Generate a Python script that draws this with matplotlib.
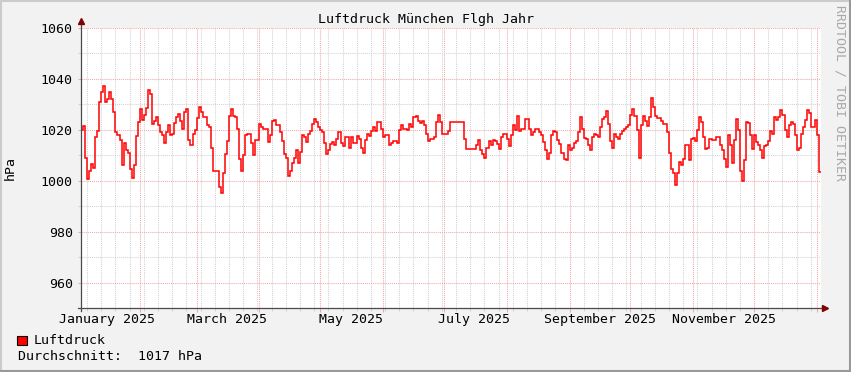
import matplotlib

matplotlib.use("Agg")

import matplotlib.dates as mdates
import matplotlib.pyplot as plt
import numpy as np
import pandas as pd
from matplotlib.lines import Line2D
from matplotlib.patches import Rectangle
from matplotlib.ticker import MultipleLocator, NullFormatter


TITLE = "Luftdruck München Flgh Jahr"
Y_LABEL = "hPa"
SERIES_NAME = "Luftdruck"
AVERAGE_TEXT = "Durchschnitt:  1017 hPa"
WATERMARK = "RRDTOOL / TOBI OETIKER"

START = "2025-01-03"
END = "2026-01-03"
Y_MIN, Y_MAX = 950, 1060
MONTH_LABELS = ["January 2025", "March 2025", "May 2025",
                "July 2025", "September 2025", "November 2025"]
MONTH_LABEL_DATES = ["2025-01-01", "2025-03-01", "2025-05-01",
                     "2025-07-01", "2025-09-01", "2025-11-01"]

# daily pressure values (hPa), starting at START
pressure_jan_mar = [
    1020, 1021.5, 1009, 1000.5, 1004, 1006.5, 1005, 1017, 1019.5, 1031,
    1035, 1037.3, 1031, 1032, 1034.7, 1032, 1027, 1019, 1017.8, 1016,
    1006, 1015, 1012, 1011, 1004.5, 1001, 1006, 1017.5, 1023, 1028,
    1024, 1026, 1028.5, 1035.5, 1034, 1022.3, 1023.5, 1025, 1022, 1019,
    1018, 1015, 1019, 1022, 1018, 1018.5, 1022.5, 1025, 1026.2, 1023.6,
    1020.4, 1027, 1028, 1016, 1014, 1018.3, 1020, 1024.5, 1029, 1027,
    1025, 1025,
]
pressure_mar_may = [
    1022, 1021, 1013, 1004, 1004, 1004, 997.5, 995.3, 1003, 1010.6,
    1015.8, 1025.6, 1028.2, 1025.6, 1025, 1020.4, 1008.7, 1004, 1010, 1017.8,
    1018.3, 1018.5, 1015, 1010, 1016, 1016, 1022.3, 1021, 1020.5, 1020.5,
    1015.2, 1018, 1023.6, 1024, 1022, 1022, 1019, 1015.8, 1010.6, 1009,
    1002, 1004, 1007, 1009, 1012, 1006.8, 1011.3, 1017.8, 1017.2, 1015.2,
    1018.3, 1019.7, 1022.3, 1024.3, 1023, 1021, 1020, 1019, 1015, 1010.6,
    1012,
]
pressure_may_jul = [
    1014.5, 1015.2, 1014, 1016.5, 1019, 1015, 1013.5, 1017, 1017, 1013,
    1017, 1015, 1015, 1017.5, 1016.5, 1013, 1011, 1016, 1018.3, 1017.5,
    1019.7, 1021, 1019.7, 1023, 1023, 1020.4, 1017.2, 1017.8, 1017.8, 1014,
    1015, 1015.5, 1015.8, 1015, 1020, 1022, 1020.4, 1020.5, 1020, 1022.3,
    1021, 1025, 1025.4, 1023.5, 1022.5, 1023.5, 1022, 1018.5, 1015.5, 1016.5,
    1016.5, 1017, 1023, 1026, 1023, 1018.5, 1018.5, 1018.3, 1019.5, 1023,
    1023,
]
pressure_jul_sep = [
    1023, 1023, 1023, 1023, 1023, 1016.5, 1012.6, 1012.6, 1012.6, 1012.6,
    1012.6, 1014, 1016, 1012, 1010.5, 1009, 1013, 1015.5, 1014, 1016,
    1015.5, 1014.5, 1012.5, 1017, 1018.3, 1018.3, 1016.5, 1013.5, 1018, 1022,
    1020, 1025.5, 1019.7, 1020.3, 1020.3, 1024.3, 1024.3, 1020.5, 1018, 1019,
    1020.3, 1020.3, 1019, 1017.8, 1015.2, 1012, 1008.7, 1011, 1018, 1019.7,
    1019, 1016, 1014.5, 1011, 1008.5, 1008, 1014, 1012, 1013, 1015,
    1015.5,
]
pressure_sep_nov = [
    1019, 1025, 1020.5, 1016.8, 1016.5, 1014, 1012, 1017, 1018.3, 1017.8,
    1017, 1021, 1024.3, 1025, 1027.3, 1022.3, 1015.8, 1013, 1018.3, 1017,
    1016.5, 1018.3, 1019.5, 1020.5, 1021, 1022, 1026, 1028, 1025.5, 1020,
    1009, 1022, 1025.6, 1023.5, 1021.5, 1025, 1032.5, 1029, 1025.6, 1024.5,
    1024.5, 1023.5, 1022.3, 1022.3, 1019, 1011, 1004.5, 1003, 998.5, 1003,
    1007.4, 1006.2, 1008.5, 1014, 1014, 1008, 1016.5, 1016.8, 1015.8, 1020,
    1025,
]
pressure_nov_jan = [
    1023, 1017, 1012.6, 1013, 1016.5, 1016, 1016, 1017.2, 1017.3, 1014,
    1012, 1008.5, 1005.5, 1018, 1014, 1007, 1016, 1024.3, 1020, 1004,
    1000, 1008, 1023, 1022.5, 1018, 1012.6, 1018, 1015.3, 1014, 1012,
    1009, 1013.5, 1014, 1015.8, 1019.7, 1018.3, 1025, 1024, 1025, 1027.8,
    1026, 1020, 1017, 1022, 1023, 1022.3, 1018, 1012, 1013, 1018.3,
    1021, 1024, 1027.8, 1026.5, 1021, 1021, 1024, 1018, 1003.5,
]

pressure = np.array(
    pressure_jan_mar + pressure_mar_may + pressure_may_jul
    + pressure_jul_sep + pressure_sep_nov + pressure_nov_jan
)

BACK = "#f2f2f2"
LINE_RED = "#ff0000"
MAJOR_GRID = "#f2a8a8"
MINOR_GRID = "#d2d2d2"
AXIS = "#4a4a4a"
ARROW = "#7f0000"
MONO = "DejaVu Sans Mono"
FS = 9.5

W, H = 851, 372

fig = plt.figure(figsize=(W / 100, H / 100), dpi=100, facecolor=BACK)
ax = fig.add_axes([81 / W, 64 / H, 740 / W, 280 / H])
ax.set_facecolor("white")

edges = pd.date_range(START, periods=len(pressure) + 1, freq="D")
ax.stairs(pressure, mdates.date2num(edges), baseline=None, color=LINE_RED,
          lw=1.1, zorder=3)

ax.set_xlim(mdates.date2num(pd.Timestamp(START)), mdates.date2num(pd.Timestamp(END)))
ax.set_ylim(Y_MIN, Y_MAX)

ax.xaxis.set_major_locator(mdates.MonthLocator())
ax.xaxis.set_minor_locator(mdates.WeekdayLocator(byweekday=mdates.MO))
ax.xaxis.set_major_formatter(NullFormatter())
ax.yaxis.set_major_locator(MultipleLocator(20))
ax.yaxis.set_minor_locator(MultipleLocator(10))

ax.set_axisbelow(True)
ax.grid(which="minor", color=MINOR_GRID, linestyle=(0, (1, 1)), lw=0.75)
ax.grid(which="major", color=MAJOR_GRID, linestyle=(0, (1, 1)), lw=0.75)

ax.tick_params(axis="x", which="major", length=3, width=0.75, color=MAJOR_GRID)
ax.tick_params(axis="x", which="minor", length=2, width=0.75, color=MINOR_GRID)
ax.tick_params(axis="y", which="major", length=2, width=0.75, color=MAJOR_GRID,
               labelsize=FS, pad=4)
ax.tick_params(axis="y", which="minor", length=2, width=0.75, color=MINOR_GRID)
for label in ax.get_yticklabels():
    label.set_family(MONO)

for spine in ax.spines.values():
    spine.set_visible(False)

# axis lines with arrow heads, rrdtool style
ax.plot([0, 0], [-0.01, 1.025], transform=ax.transAxes, color=AXIS, lw=0.9,
        clip_on=False, zorder=5)
ax.plot([-0.004, 1.006], [0, 0], transform=ax.transAxes, color=AXIS, lw=0.9,
        clip_on=False, zorder=5)
ax.plot([0], [1.025], transform=ax.transAxes, marker="^", ms=4, color=ARROW,
        clip_on=False, zorder=6)
ax.plot([1.006], [0], transform=ax.transAxes, marker=">", ms=4, color=ARROW,
        clip_on=False, zorder=6)

for text, day in zip(MONTH_LABELS, MONTH_LABEL_DATES):
    x = mdates.date2num(pd.Timestamp(day) + pd.Timedelta(days=15))
    ax.text(x, -0.04, text, transform=ax.get_xaxis_transform(), ha="center",
            va="center", fontsize=FS, family=MONO)

fig.text(0.5, 1 - 19 / H, TITLE, ha="center", va="center", fontsize=FS, family=MONO)
fig.text(10 / W, 1 - 168 / H, Y_LABEL, rotation=90, ha="center", va="center",
         fontsize=FS, family=MONO)
fig.text(840 / W, 1 - 93 / H, WATERMARK, rotation=270, ha="center", va="center",
         fontsize=FS, family=MONO, color="#a8a8a8")

# legend
fig.add_artist(Rectangle((17 / W, 1 - 345 / H), 10 / W, 9 / H, facecolor=LINE_RED,
                         edgecolor="black", lw=0.8, transform=fig.transFigure))
fig.text(34 / W, 1 - 340 / H, SERIES_NAME, ha="left", va="center", fontsize=FS,
         family=MONO)
fig.text(18 / W, 1 - 356 / H, AVERAGE_TEXT, ha="left", va="center", fontsize=FS,
         family=MONO)

# shaded frame
fig.add_artist(Line2D([0, 1], [1 - 1 / H, 1 - 1 / H], color="#cbcbcb", lw=1.5,
                      transform=fig.transFigure))
fig.add_artist(Line2D([1 / W, 1 / W], [0, 1], color="#cbcbcb", lw=1.5,
                      transform=fig.transFigure))
fig.add_artist(Line2D([0, 1], [1 / H, 1 / H], color="#999999", lw=1.5,
                      transform=fig.transFigure))
fig.add_artist(Line2D([1 - 1 / W, 1 - 1 / W], [0, 1], color="#999999", lw=1.5,
                      transform=fig.transFigure))

fig.savefig("out.png", dpi=100, facecolor=BACK)
plt.close(fig)
